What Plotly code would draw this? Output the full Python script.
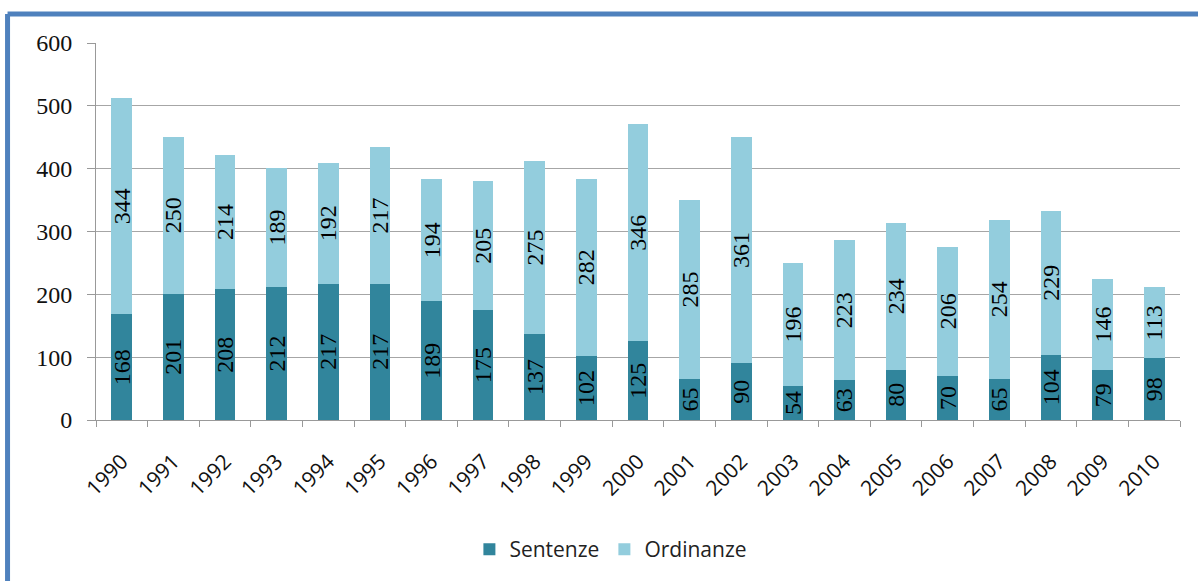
import plotly.graph_objects as go

# Constitutional court decisions per year
years = [str(y) for y in range(1990, 2011)]
sentenze = [168, 201, 208, 212, 217, 217, 189, 175, 137, 102, 125, 65, 90, 54, 63, 80, 70, 65, 104, 79, 98]
ordinanze = [344, 250, 214, 189, 192, 217, 194, 205, 275, 282, 346, 285, 361, 196, 223, 234, 206, 254, 229, 146, 113]
y_ticks = [0, 100, 200, 300, 400, 500, 600]

DARK = "#31859C"
LIGHT = "#93CDDD"
SERIF = "Liberation Serif"
SANS = "Open Sans"

fig = go.Figure()
for name, vals, color in [("Sentenze", sentenze, DARK), ("Ordinanze", ordinanze, LIGHT)]:
    fig.add_trace(go.Bar(
        x=years, y=vals, name=name,
        marker=dict(color=color, line=dict(width=0)),
        text=[str(v) for v in vals],
        textposition="inside", insidetextanchor="middle",
        textangle=-90, constraintext="none",
        textfont=dict(family=SERIF, size=24, color="black"),
        width=0.4,
    ))

# frame lines (top and left)
frame = "#4F81BD"
fig.add_shape(type="line", xref="paper", yref="paper",
              x0=-0.0816, x1=1.02, y0=1.0767, y1=1.0767,
              line=dict(color=frame, width=5))
fig.add_shape(type="line", xref="paper", yref="paper",
              x0=-0.0816, x1=-0.0816, y0=1.0767, y1=-0.45,
              line=dict(color=frame, width=5))

fig.update_layout(
    barmode="stack",
    width=1198, height=581,
    margin=dict(l=96, r=18, t=43, b=160),
    paper_bgcolor="white", plot_bgcolor="white",
    showlegend=True,
    legend=dict(orientation="h", x=0.475, xanchor="center", y=-0.34, yanchor="middle",
                font=dict(family=SANS, size=21, color="#222"),
                itemwidth=30, traceorder="normal"),
    xaxis=dict(
        type="category", tickangle=-45, tickson="boundaries",
        ticks="outside", ticklen=6, tickcolor="#999",
        showline=True, linecolor="#999", linewidth=1,
        tickfont=dict(family=SANS, size=21, color="#111"),
        ticklabelstandoff=20,
    ),
    yaxis=dict(
        range=[0, 600], tickvals=y_ticks,
        ticks="outside", ticklen=8, tickcolor="#999",
        showline=True, linecolor="#999", linewidth=1,
        showgrid=True, gridcolor="#A6A6A6", gridwidth=1,
        tickfont=dict(family=SERIF, size=24, color="#111"),
        ticklabelstandoff=10, zeroline=False,
    ),
    bargap=0.6,
)

fig.write_html("out.html")
